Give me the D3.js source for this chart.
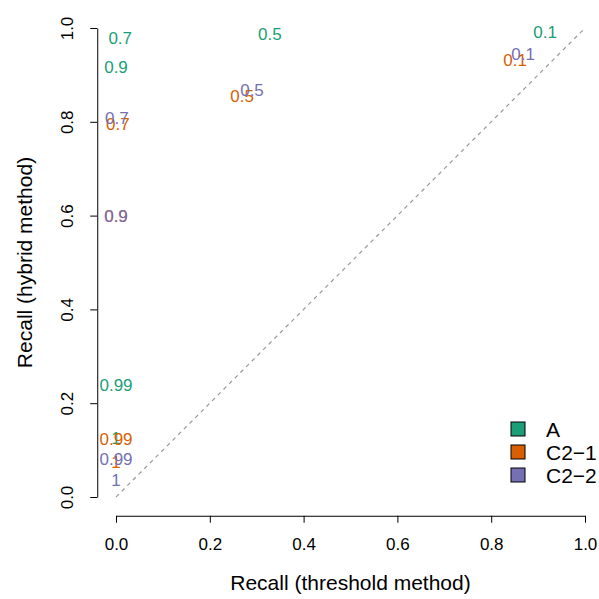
<!DOCTYPE html>
<html>
<head>
<meta charset="utf-8">
<script src="https://cdn.jsdelivr.net/npm/d3@7"></script>
<style>
  body { margin: 0; background: #fff; }
  text { font-family: "Liberation Sans", Arial, sans-serif; }
</style>
</head>
<body>
<div id="chart"></div>
<script>
var width = 599;
var height = 599;

// series names and colours (Dark2)
var seriesNames = ["A", "C2\u22121", "C2\u22122"];
var seriesColors = ["#1B9E77", "#D95F02", "#7570B3"];

// threshold labels drawn at each point
var thresholdLabels = ["0.1", "0.5", "0.7", "0.9", "0.99", "1"];

// recall values, one entry per threshold label
var xA   = [0.915, 0.328, 0.009, 0.0, 0.0, 0.0];
var yA   = [0.991, 0.987, 0.979, 0.917, 0.239, 0.126];
var xC21 = [0.851, 0.269, 0.004, 0.0, 0.0, 0.0];
var yC21 = [0.932, 0.855, 0.795, 0.599, 0.124, 0.075];
var xC22 = [0.868, 0.290, 0.002, 0.0, 0.0, 0.0];
var yC22 = [0.945, 0.868, 0.808, 0.599, 0.081, 0.036];

var axisTicks = [0, 0.2, 0.4, 0.6, 0.8, 1.0];

var seriesX = [xA, xC21, xC22];
var seriesY = [yA, yC21, yC22];

var svg = d3.select("#chart").append("svg")
    .attr("width", width)
    .attr("height", height);

var x = d3.scaleLinear().domain([0, 1]).range([116, 585]);
var y = d3.scaleLinear().domain([0, 1]).range([497, 28]);

// axes sit 4% outside the data range, like R
var xAxisY = y(-0.04);
var yAxisX = x(-0.04);

var xAxis = d3.axisBottom(x)
    .tickValues(axisTicks)
    .tickFormat(d3.format(".1f"))
    .tickSizeInner(7)
    .tickSizeOuter(0)
    .tickPadding(15);

var yAxis = d3.axisLeft(y)
    .tickValues(axisTicks)
    .tickFormat(d3.format(".1f"))
    .tickSizeInner(7)
    .tickSizeOuter(0)
    .tickPadding(8);

var gx = svg.append("g")
    .attr("transform", "translate(0," + xAxisY + ")")
    .call(xAxis);
var gy = svg.append("g")
    .attr("transform", "translate(" + yAxisX + ",0)")
    .call(yAxis);

[gx, gy].forEach(function(g) {
  g.selectAll("path, line").attr("stroke", "#000").attr("stroke-width", 1);
  g.selectAll("text")
    .attr("fill", "#000")
    .style("font-size", "17px")
    .style("font-family", "'Liberation Sans', Arial, sans-serif");
});

// rotate y tick labels like R's las=0
gy.selectAll(".tick text")
    .attr("x", null)
    .attr("dy", null)
    .attr("text-anchor", "middle")
    .attr("transform", "translate(-24,0) rotate(-90)");

// axis titles
svg.append("text")
    .attr("x", x(0.5))
    .attr("y", 590)
    .attr("text-anchor", "middle")
    .style("font-size", "21px")
    .text("Recall (threshold method)");

svg.append("text")
    .attr("transform", "translate(32," + y(0.5) + ") rotate(-90)")
    .attr("text-anchor", "middle")
    .style("font-size", "21px")
    .text("Recall (hybrid method)");

// diagonal reference line
svg.append("line")
    .attr("x1", x(0)).attr("y1", y(0))
    .attr("x2", x(1)).attr("y2", y(1))
    .attr("stroke", "#999")
    .attr("stroke-width", 1.2)
    .attr("stroke-dasharray", "4,4");

// labels at each point
seriesNames.forEach(function(name, s) {
  svg.append("g").selectAll("text")
    .data(thresholdLabels)
    .enter().append("text")
      .attr("x", function(d, i) { return x(seriesX[s][i]); })
      .attr("y", function(d, i) { return y(seriesY[s][i]); })
      .attr("dy", "0.36em")
      .attr("text-anchor", "middle")
      .attr("fill", seriesColors[s])
      .style("font-size", "17px")
      .text(function(d) { return d; });
});

// legend
var legend = svg.append("g");
var items = legend.selectAll("g")
    .data(seriesNames)
    .enter().append("g")
      .attr("transform", function(d, i) { return "translate(511," + (429 + i * 23) + ")"; });

items.append("rect")
    .attr("x", 0).attr("y", -7)
    .attr("width", 14).attr("height", 14)
    .attr("fill", function(d, i) { return seriesColors[i]; })
    .attr("stroke", "#000")
    .attr("stroke-width", 1);

items.append("text")
    .attr("x", 35)
    .attr("dy", "0.36em")
    .style("font-size", "21px")
    .text(function(d) { return d; });
</script>
</body>
</html>
